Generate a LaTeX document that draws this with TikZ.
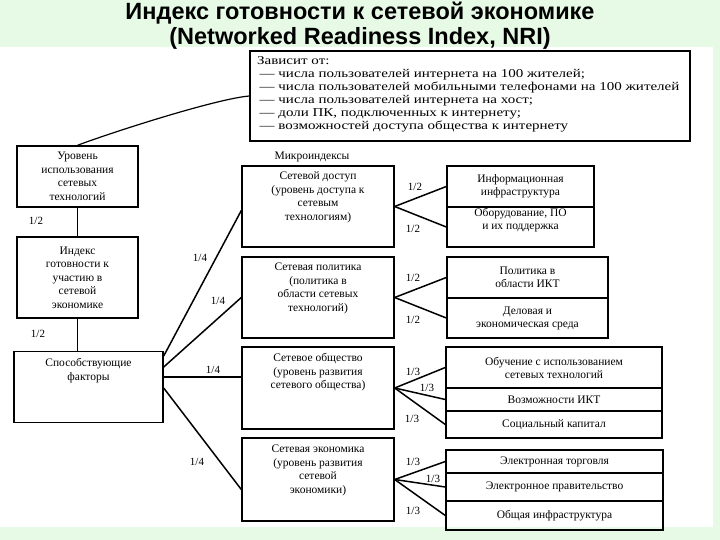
\documentclass[tikz,border=0pt]{standalone}
\usepackage{fontspec}
\setmainfont{Liberation Serif}
\newfontfamily\titlefont{Liberation Sans}
\usetikzlibrary{positioning,calc}
\definecolor{slidegreen}{HTML}{E6FAE6}
\tikzstyle{box} = [draw, line width=1.4pt, inner sep=3pt, align=center, font=\fontsize{11.5}{13.5}\selectfont]
\tikzstyle{cell} = [draw, line width=1.4pt, inner sep=1pt, align=center, font=\fontsize{11.5}{13}\selectfont]
\tikzstyle{edge} = [line width=1.5pt]
\tikzstyle{weight} = [inner sep=1pt, font=\fontsize{11}{12}\selectfont]
\newcommand{\topbox}[1]{\parbox[c][75pt][t]{146pt}{\centering\vspace*{3pt}#1}}
\newcommand{\dashitem}[1]{\makebox[17pt][l]{\,—}#1}

\begin{document}
\begin{tikzpicture}[x=1pt,y=-1pt]
    \useasboundingbox (0,0) rectangle (720,540);
    \fill[slidegreen] (0,0) rectangle (720,540);
    \fill[white] (0,47) rectangle (713,527);
    \node[font=\titlefont\bfseries\fontsize{23.5}{25}\selectfont, align=center] (title) at (360,25.5)
        {Индекс готовности к сетевой экономике\\(Networked Readiness Index, NRI)};

    % factors
    \node[draw, line width=1.4pt, minimum width=440pt, minimum height=90pt] (dep) at (470,96) {};
    \node[anchor=north west, inner sep=0pt, font=\fontsize{12}{13}\selectfont] (deptext) at (257,55)
        {\scalebox{1.25}[1]{\begin{tabular}{@{}l@{}}
         Зависит от:\\
         \dashitem{числа пользователей интернета на 100 жителей;}\\
         \dashitem{числа пользователей мобильными телефонами на 100 жителей}\\
         \dashitem{числа пользователей интернета на хост;}\\
         \dashitem{доли ПК, подключенных к интернету;}\\
         \dashitem{возможностей доступа общества к интернету}
         \end{tabular}}};

    % left column
    \node[box, minimum width=121pt, minimum height=61pt] (lvl) at (77.5,176.5)
        {Уровень\\использования\\сетевых\\технологий};
    \node[box, minimum width=121pt, minimum height=81pt] (idx) at (77.5,277.5)
        {Индекс\\готовности к\\участию в\\сетевой\\экономике};
    \node[box, minimum width=149pt, minimum height=71pt, anchor=north] (fac) at (88.5,351)
        {\parbox[c][65pt][t]{140pt}{\centering\vspace*{4pt}Способствующие\\факторы}};
    \draw[line width=1.2pt] (dep.west) .. controls (215,99) and (110,133) .. (lvl.north);
    \draw[edge] (lvl) -- (lvl |- idx.north);
    \draw[edge] (idx) -- (idx |- fac.north);
    \node[weight] (w1) at (36,221) {1/2};
    \node[weight] (w2) at (38,334) {1/2};

    % micro indices
    \node[font=\fontsize{11.5}{13}\selectfont] (micro) at (312,157) {Микроиндексы};
    \node[box, minimum width=150pt, minimum height=81pt] (acc) at (318,206.5)
        {\topbox{Сетевой доступ\\(уровень доступа к\\сетевым\\технологиям)}};
    \node[box, minimum width=150pt, minimum height=81pt] (pol) at (318,297.5)
        {\topbox{Сетевая политика\\(политика в\\области сетевых\\технологий)}};
    \node[box, minimum width=150pt, minimum height=82pt] (soc) at (318,388)
        {\topbox{Сетевое общество\\(уровень развития\\сетевого общества)}};
    \node[box, minimum width=150pt, minimum height=83pt] (eco) at (318,479.5)
        {\topbox{Сетевая экономика\\(уровень развития\\сетевой\\экономики)}};

    \coordinate (f1) at ($(fac.north east)+(0,5)$);
    \coordinate (f2) at ($(fac.north east)+(0,16)$);
    \coordinate (f3) at ($(fac.north east)+(0,26)$);
    \coordinate (f4) at ($(fac.north east)+(0,37)$);
    \draw[edge] (f1) -- ($(acc.west)+(0,4)$);
    \draw[edge] (f2) -- (pol.west);
    \draw[edge] (f3) -- (f3 -| soc.west);
    \draw[edge] (f4) -- ($(eco.west)+(0,10)$);
    \node[weight] (w3) at (200,258) {1/4};
    \node[weight] (w4) at (218,301) {1/4};
    \node[weight] (w5) at (213,370) {1/4};
    \node[weight] (w6) at (197,462) {1/4};

    % sub indices
    \node[cell, minimum width=147pt, minimum height=41pt] (info) at (520.5,186.5)
        {Информационная\\инфраструктура};
    \node[cell, minimum width=147pt, minimum height=40pt] (hard) at (520.5,227)
        {Оборудование, ПО\\и их поддержка\\[3pt]};
    \node[cell, minimum width=161pt, minimum height=41pt] (ict) at (527.5,277.5)
        {Политика в\\области ИКТ};
    \node[cell, minimum width=161pt, minimum height=40pt] (biz) at (527.5,318)
        {Деловая и\\экономическая среда};
    \node[cell, minimum width=216pt, minimum height=41pt] (learn) at (554,367.5)
        {Обучение с использованием\\сетевых технологий};
    \node[cell, minimum width=216pt, minimum height=23pt] (abil) at (554,399.5)
        {Возможности ИКТ};
    \node[cell, minimum width=216pt, minimum height=27pt] (cap) at (554,424.5)
        {Социальный капитал};
    \node[cell, minimum width=217pt, minimum height=23pt] (trade) at (554.5,461.5)
        {Электронная торговля};
    \node[cell, minimum width=217pt, minimum height=28pt] (gov) at (554.5,487)
        {Электронное правительство};
    \node[cell, minimum width=217pt, minimum height=29pt] (infra) at (554.5,515.5)
        {Общая инфраструктура};

    \draw[edge] (acc.east) -- (info.west);
    \draw[edge] (acc.east) -- (hard.west);
    \draw[edge] (pol.east) -- (ict.west);
    \draw[edge] (pol.east) -- (biz.west);
    \draw[edge] (soc.east) -- (learn.west);
    \draw[edge] (soc.east) -- (abil.west);
    \draw[edge] (soc.east) -- (cap.west);
    \draw[edge] (eco.east) -- (trade.west);
    \draw[edge] (eco.east) -- (gov.west);
    \draw[edge] (eco.east) -- (infra.west);
    \node[weight] (w7) at (415,187) {1/2};
    \node[weight] (w8) at (413,229) {1/2};
    \node[weight] (w9) at (413,278) {1/2};
    \node[weight] (w10) at (413,320) {1/2};
    \node[weight] (w11) at (413,372) {1/3};
    \node[weight] (w12) at (427,388) {1/3};
    \node[weight] (w13) at (412,419) {1/3};
    \node[weight] (w14) at (413,462) {1/3};
    \node[weight] (w15) at (433,479) {1/3};
    \node[weight] (w16) at (413,511) {1/3};
\end{tikzpicture}
\end{document}
